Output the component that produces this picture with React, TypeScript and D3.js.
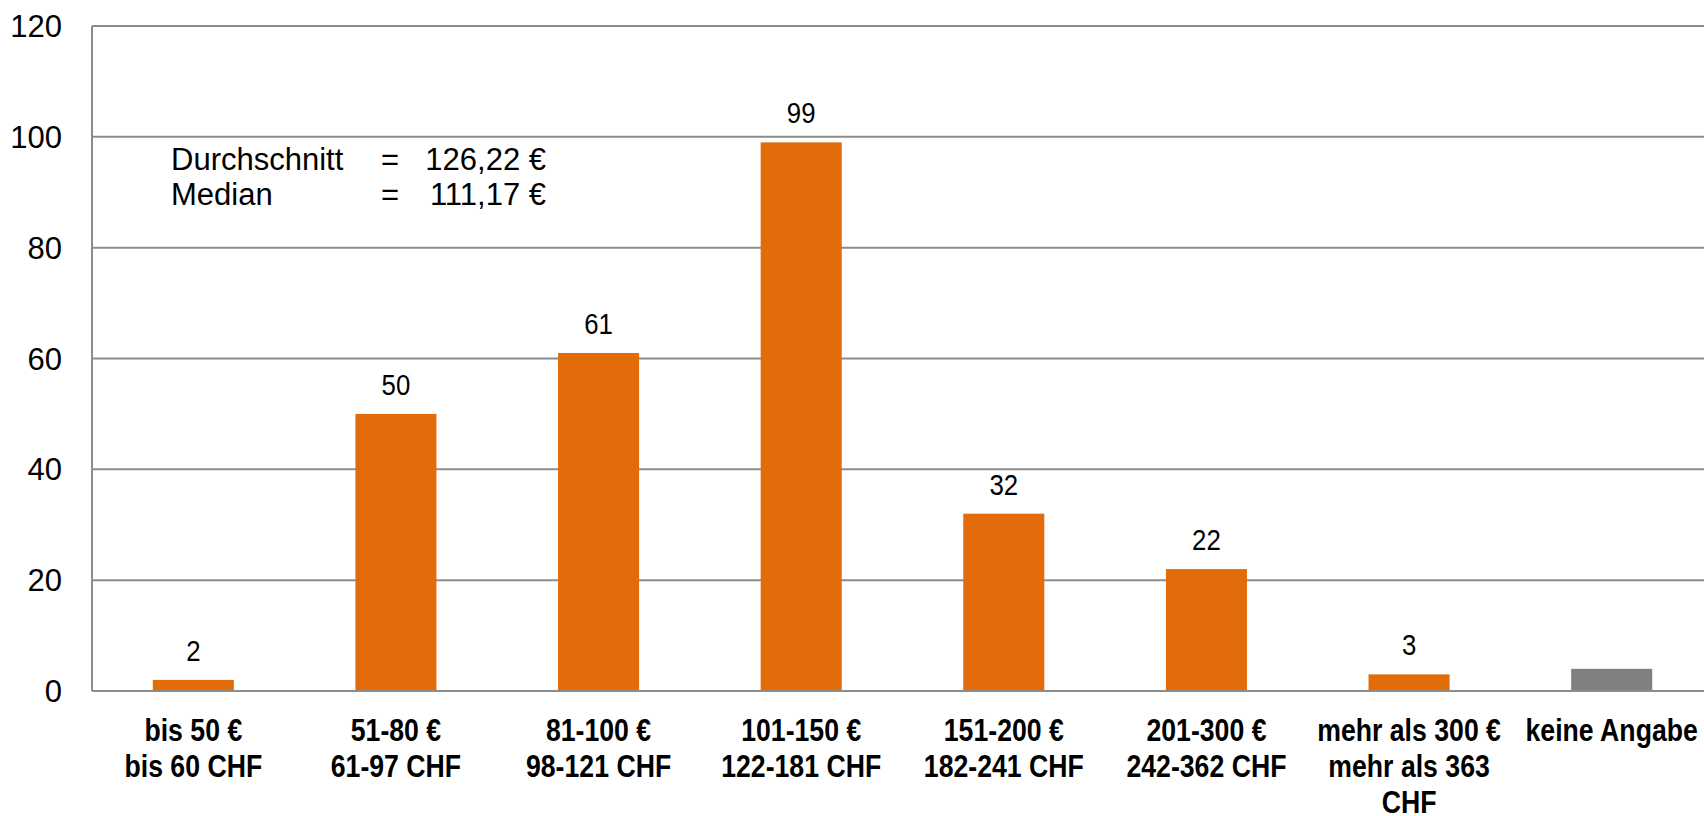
import React from "react";
import * as d3 from "d3";

const categories: string[][] = [
  ["bis 50 €", "bis 60 CHF"],
  ["51-80 €", "61-97 CHF"],
  ["81-100 €", "98-121 CHF"],
  ["101-150 €", "122-181 CHF"],
  ["151-200 €", "182-241 CHF"],
  ["201-300 €", "242-362 CHF"],
  ["mehr als 300 €", "mehr als 363", "CHF"],
  ["keine Angabe"],
];
const values: number[] = [2, 50, 61, 99, 32, 22, 3, 4];
const showLabel: boolean[] = [true, true, true, true, true, true, true, false];
const barColors: string[] = ["#E36C0A", "#E36C0A", "#E36C0A", "#E36C0A", "#E36C0A", "#E36C0A", "#E36C0A", "#808080"];
const yTicks: number[] = [0, 20, 40, 60, 80, 100, 120];
const noteLines: [string, string, string][] = [
  ["Durchschnitt", "=", "126,22 €"],
  ["Median", "=", "111,17 €"],
];

const W = 1704;
const H = 816;
const FONT = "'Liberation Sans', Arial, Helvetica, sans-serif";
const NARROW = 0.86;

export default function App() {
  const left = 92;
  const right = 1713;
  const top = 26;
  const bottom = 691;
  const x = d3
    .scaleBand<number>()
    .domain(d3.range(categories.length))
    .range([left, right])
    .paddingInner(0.6)
    .paddingOuter(0.3);
  const y = d3.scaleLinear().domain([0, 120]).range([bottom, top]);
  const grid = "#8C8C8C";
  const cx = (i: number) => x(i)! + x.bandwidth() / 2;

  return (
    <svg
      width={W}
      height={H}
      style={{ position: "absolute", left: 0, top: 0, fontFamily: FONT }}
    >
      <rect x={0} y={0} width={W} height={H} fill="#fff" />
      {yTicks.map((t) => (
        <g key={t}>
          {t > 0 && (
            <line x1={left} x2={W} y1={y(t)} y2={y(t)} stroke={grid} strokeWidth={2} />
          )}
          <text
            x={62}
            y={y(t)}
            dy="0.36em"
            textAnchor="end"
            fontSize={31}
            fill="#000"
          >
            {t}
          </text>
        </g>
      ))}
      {values.map((v, i) => (
        <g key={i}>
          <rect
            x={x(i)!}
            y={y(v)}
            width={x.bandwidth()}
            height={y(0) - y(v)}
            fill={barColors[i]}
          />
          {showLabel[i] && (
            <g transform={`translate(${cx(i)},${y(v) - 19}) scale(${NARROW},1)`}>
              <text x={0} y={0} textAnchor="middle" fontSize={30} fill="#000">
                {v}
              </text>
            </g>
          )}
        </g>
      ))}
      <line x1={left} x2={left} y1={top} y2={bottom} stroke={grid} strokeWidth={2} />
      <line x1={left} x2={W} y1={bottom} y2={bottom} stroke={grid} strokeWidth={2} />
      {categories.map((lines, i) => (
        <g key={i} transform={`translate(${cx(i)},0) scale(${NARROW},1)`}>
          <text textAnchor="middle" fontSize={31} fontWeight="bold" fill="#000">
            {lines.map((l, j) => (
              <tspan key={j} x={0} y={741 + j * 36}>
                {l}
              </tspan>
            ))}
          </text>
        </g>
      ))}
      {noteLines.map((ln, j) => (
        <g key={j} fontSize={31} fill="#000">
          <text x={171} y={170 + j * 35}>{ln[0]}</text>
          <text x={390} y={170 + j * 35} textAnchor="middle">{ln[1]}</text>
          <text x={546} y={170 + j * 35} textAnchor="end">{ln[2]}</text>
        </g>
      ))}
    </svg>
  );
}
